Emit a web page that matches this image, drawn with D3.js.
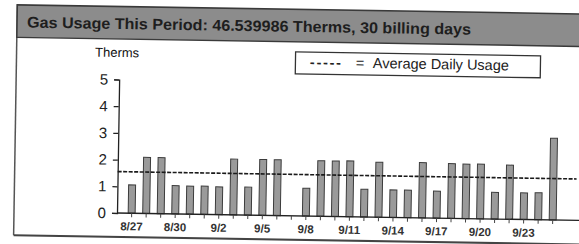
<!DOCTYPE html>
<html>
<head>
<meta charset="utf-8">
<script src="https://cdn.jsdelivr.net/npm/d3@7"></script>
<style>
  body { margin: 0; background: #fff; }
  svg { display: block; font-family: "Liberation Sans", Arial, sans-serif; }
</style>
</head>
<body>
<svg class="usageChart" width="579" height="244"></svg>
<script>
// daily gas usage, one value per billing day (9/7 had no reading)
const days = ["8/27", "8/28", "8/29", "8/30", "8/31", "9/1", "9/2", "9/3", "9/4", "9/5",
    "9/6", "9/7", "9/8", "9/9", "9/10", "9/11", "9/12", "9/13", "9/14", "9/15",
    "9/16", "9/17", "9/18", "9/19", "9/20", "9/21", "9/22", "9/23", "9/24", "9/25"];
const therms = [1.06, 2.10, 2.10, 1.06, 1.05, 1.06, 1.04, 2.09, 1.05, 2.09,
    2.09, 0, 1.04, 2.08, 2.08, 2.09, 1.04, 2.06, 1.03, 1.03,
    2.07, 1.01, 2.05, 2.04, 2.05, 1.00, 2.03, 1.00, 1.01, 3.06];
const tickDays = ["8/27", "8/30", "9/2", "9/5", "9/8", "9/11", "9/14", "9/17", "9/20", "9/23"];
const yTicks = [0, 1, 2, 3, 4, 5];
const periodTotal = 46.539986;
const billingDays = 30;

const svg = d3.select('.usageChart');

// the source is a slightly skewed scan, so the whole panel is tilted a bit
const panel = svg.append('g')
    .attr('transform', 'rotate(0.92, 117, 213)');

// frame
panel.append('line')
    .attr('x1', 14).attr('x2', 14)
    .attr('y1', 6).attr('y2', 237)
    .attr('stroke', '#555').attr('stroke-width', 1.5);
panel.append('line')
    .attr('x1', 14).attr('x2', 620)
    .attr('y1', 237).attr('y2', 237)
    .attr('stroke', '#444').attr('stroke-width', 2);

// title bar
panel.append('rect')
    .attr('x', 14).attr('y', 6.5)
    .attr('width', 620).attr('height', 32.5)
    .attr('fill', '#8c8c8c')
    .attr('stroke', '#3a3a3a').attr('stroke-width', 1.5);

panel.append('text')
    .attr('x', 24)
    .attr('y', 29)
    .attr('font-size', 15.5)
    .attr('font-weight', 'bold')
    .attr('fill', '#1e1e1e')
    .attr('textLength', 444)
    .attr('lengthAdjust', 'spacingAndGlyphs')
    .text(`Gas Usage This Period: ${periodTotal} Therms, ${billingDays} billing days`);

// scales
const x = d3.scaleBand()
    .domain(days)
    .range([124.4, 560])
    .paddingInner(0.52)
    .paddingOuter(0.26);

const y = d3.scaleLinear()
    .domain([0, 5])
    .range([213, 79.5]);

// units label
panel.append('text')
    .attr('x', 92.5)
    .attr('y', 57)
    .attr('font-size', 13)
    .attr('fill', '#111')
    .text('Therms');

// legend
const legend = panel.append('g');
legend.append('rect')
    .attr('x', 293).attr('y', 49)
    .attr('width', 245).attr('height', 22)
    .attr('fill', '#fff')
    .attr('stroke', '#333').attr('stroke-width', 1.3);
legend.append('text')
    .attr('x', 307.5).attr('y', 64)
    .attr('font-size', 14.5)
    .attr('font-weight', 'bold')
    .attr('fill', '#222')
    .attr('textLength', 31)
    .text('-----');
legend.append('text')
    .attr('x', 353.5).attr('y', 64)
    .attr('font-size', 14.5)
    .attr('fill', '#222')
    .text('=');
legend.append('text')
    .attr('x', 370.5).attr('y', 64)
    .attr('font-size', 14.5)
    .attr('fill', '#222')
    .text('Average Daily Usage');

// bars (days without a reading are skipped)
const usage = days.map((day, i) => ({ day: day, value: therms[i] }))
    .filter(d => d.value > 0);

panel.append('g')
    .selectAll('rect')
    .data(usage)
    .join('rect')
    .attr('x', d => x(d.day))
    .attr('y', d => y(d.value))
    .attr('width', x.bandwidth())
    .attr('height', d => y(0) - y(d.value))
    .attr('fill', '#9a9a9a')
    .attr('stroke', '#3c3c3c')
    .attr('stroke-width', 1);

// y axis
const yAxis = panel.append('g')
    .attr('transform', 'translate(117,0)')
    .call(d3.axisLeft(y)
        .tickValues(yTicks)
        .tickFormat(d3.format('d'))
        .tickSize(5)
        .tickPadding(6));
yAxis.select('.domain').attr('stroke', '#222').attr('stroke-width', 1.3);
yAxis.selectAll('.tick line').attr('stroke', '#222').attr('stroke-width', 1.2);
yAxis.selectAll('.tick text')
    .attr('font-size', 15)
    .attr('font-family', '"Liberation Sans", Arial, sans-serif')
    .attr('fill', '#222');

// x axis
panel.append('line')
    .attr('x1', 117).attr('x2', 580)
    .attr('y1', y(0)).attr('y2', y(0))
    .attr('stroke', '#222').attr('stroke-width', 1.4);

const xAxis = panel.append('g')
    .attr('transform', `translate(0,${y(0)})`)
    .call(d3.axisBottom(x)
        .tickValues(days)
        .tickSize(4)
        .tickPadding(5)
        .tickFormat(d => tickDays.includes(d) ? d : ''));
xAxis.select('.domain').remove();
xAxis.selectAll('.tick line').attr('stroke', '#444').attr('stroke-width', 1);
xAxis.selectAll('.tick text')
    .attr('font-size', 11.5)
    .attr('font-family', '"Liberation Sans", Arial, sans-serif')
    .attr('font-weight', 'bold')
    .attr('fill', '#333');

// average daily usage line
const average = periodTotal / billingDays;
panel.append('line')
    .attr('x1', 117).attr('x2', 576)
    .attr('y1', y(average)).attr('y2', y(average))
    .attr('stroke', '#1a1a1a')
    .attr('stroke-width', 1.6)
    .attr('stroke-dasharray', '4,1.5');
</script>
</body>
</html>
